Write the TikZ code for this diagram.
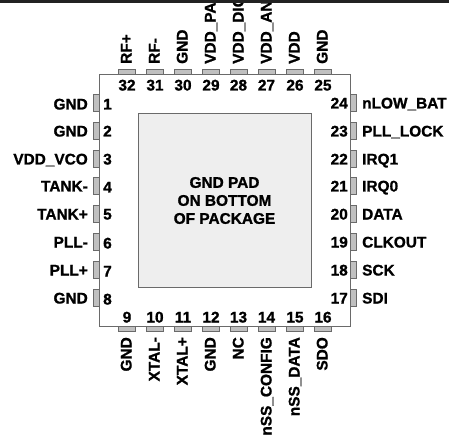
\documentclass[tikz,border=0pt]{standalone}
\usepackage{fontspec}
\setmainfont{Liberation Sans}[BoldFeatures={FakeBold=1.2}]
\usepackage{xcolor}
\usetikzlibrary{
    positioning
}
\definecolor{pinedge}{HTML}{6A6A6A}
\definecolor{pinfill}{HTML}{C0C0C0}
\definecolor{padfill}{HTML}{EEEEEE}
\definecolor{topbar}{HTML}{222222}
\tikzset{
    pinlabel/.style={inner sep=0pt, font=\fontsize{15.4}{18}\selectfont\bfseries, text height=11pt, text depth=0pt},
    pinnum/.style={pinlabel},
    sidepin/.style={draw=pinedge, fill=pinfill, line width=0.7pt, inner sep=0pt, minimum width=5.5pt, minimum height=17pt},
    flatpin/.style={draw=pinedge, fill=pinfill, line width=0.7pt, inner sep=0pt, minimum width=17pt, minimum height=5.5pt},
    leftname/.style={pinlabel, anchor=east},
    rightname/.style={pinlabel, anchor=west},
    topname/.style={pinlabel, rotate=90, anchor=west},
    botname/.style={pinlabel, rotate=90, anchor=east},
    leftnum/.style={pinnum, anchor=west},
    rightnum/.style={pinnum, anchor=east}
}
\begin{document}
\begin{tikzpicture}[x=1pt, y=-1pt]
    \useasboundingbox (0, 0) rectangle (449, 438);
    \clip (0, 0) rectangle (449, 438);
    % package and pad
    \node[draw=pinedge, line width=1pt, inner sep=0pt, minimum width=251pt, minimum height=251pt] (package) at (224.5, 200.5) {};
    \node[draw=pinedge, fill=padfill, line width=1pt, inner sep=0pt, minimum width=173pt, minimum height=173pt,
        font=\fontsize{15.4}{18}\selectfont\bfseries, align=center] (pad) at (224.5, 200.5) {GND PAD\\ON BOTTOM\\OF PACKAGE};
    % left side
    \node[sidepin] (p1) at (96.5, 103) {}; \node[leftnum] (n1) at (103, 104) {1}; \node[leftname] (l1) at (88, 104) {GND};
    \node[sidepin] (p2) at (96.5, 131) {}; \node[leftnum] (n2) at (103, 131) {2}; \node[leftname] (l2) at (88, 131) {GND};
    \node[sidepin] (p3) at (96.5, 159) {}; \node[leftnum] (n3) at (103, 159) {3}; \node[leftname] (l3) at (88, 159) {VDD\_VCO};
    \node[sidepin] (p4) at (96.5, 186) {}; \node[leftnum] (n4) at (103, 187) {4}; \node[leftname] (l4) at (88, 186) {TANK-};
    \node[sidepin] (p5) at (96.5, 214) {}; \node[leftnum] (n5) at (103, 214) {5}; \node[leftname] (l5) at (88, 214) {TANK+};
    \node[sidepin] (p6) at (96.5, 242) {}; \node[leftnum] (n6) at (103, 243) {6}; \node[leftname] (l6) at (88, 242) {PLL-};
    \node[sidepin] (p7) at (96.5, 270) {}; \node[leftnum] (n7) at (103, 271) {7}; \node[leftname] (l7) at (88, 270) {PLL+};
    \node[sidepin] (p8) at (96.5, 298) {}; \node[leftnum] (n8) at (103, 299) {8}; \node[leftname] (l8) at (88, 298) {GND};
    % bottom side
    \node[flatpin] (p9) at (127, 329) {}; \node[pinnum] (n9) at (127, 317) {9}; \node[botname] (l9) at (126, 337) {GND};
    \node[flatpin] (p10) at (155, 329) {}; \node[pinnum] (n10) at (155, 317) {10}; \node[botname] (l10) at (154, 337) {XTAL-};
    \node[flatpin] (p11) at (183, 329) {}; \node[pinnum] (n11) at (183, 317) {11}; \node[botname] (l11) at (182, 337) {XTAL+};
    \node[flatpin] (p12) at (211, 329) {}; \node[pinnum] (n12) at (211, 317) {12}; \node[botname] (l12) at (210, 337) {GND};
    \node[flatpin] (p13) at (238.5, 329) {}; \node[pinnum] (n13) at (238.5, 317) {13}; \node[botname] (l13) at (238, 337) {NC};
    \node[flatpin] (p14) at (266.5, 329) {}; \node[pinnum] (n14) at (266.5, 317) {14}; \node[botname] (l14) at (266, 337) {nSS\_CONFIG};
    \node[flatpin] (p15) at (295, 329) {}; \node[pinnum] (n15) at (295, 317) {15}; \node[botname] (l15) at (294, 337) {nSS\_DATA};
    \node[flatpin] (p16) at (323, 329) {}; \node[pinnum] (n16) at (323, 317) {16}; \node[botname] (l16) at (322, 337) {SDO};
    % right side
    \node[sidepin] (p17) at (353.5, 298) {}; \node[rightnum] (n17) at (348, 298) {17}; \node[rightname] (l17) at (362, 298) {SDI};
    \node[sidepin] (p18) at (353.5, 270) {}; \node[rightnum] (n18) at (348, 270) {18}; \node[rightname] (l18) at (362, 270) {SCK};
    \node[sidepin] (p19) at (353.5, 242) {}; \node[rightnum] (n19) at (348, 242) {19}; \node[rightname] (l19) at (362, 242) {CLKOUT};
    \node[sidepin] (p20) at (353.5, 214) {}; \node[rightnum] (n20) at (348, 214) {20}; \node[rightname] (l20) at (362, 214) {DATA};
    \node[sidepin] (p21) at (353.5, 186) {}; \node[rightnum] (n21) at (348, 186) {21}; \node[rightname] (l21) at (362, 186) {IRQ0};
    \node[sidepin] (p22) at (353.5, 159) {}; \node[rightnum] (n22) at (348, 159) {22}; \node[rightname] (l22) at (362, 159) {IRQ1};
    \node[sidepin] (p23) at (353.5, 131) {}; \node[rightnum] (n23) at (348, 131) {23}; \node[rightname] (l23) at (362, 131) {PLL\_LOCK};
    \node[sidepin] (p24) at (353.5, 103) {}; \node[rightnum] (n24) at (348, 103) {24}; \node[rightname] (l24) at (362, 103) {nLOW\_BAT};
    % top side
    \node[flatpin] (p25) at (323, 72) {}; \node[pinnum] (n25) at (323, 85) {25}; \node[topname] (l25) at (322, 64) {GND};
    \node[flatpin] (p26) at (295, 72) {}; \node[pinnum] (n26) at (295, 85) {26}; \node[topname] (l26) at (294, 64) {VDD};
    \node[flatpin] (p27) at (266.5, 72) {}; \node[pinnum] (n27) at (266.5, 85) {27}; \node[topname] (l27) at (266, 64) {VDD\_ANA};
    \node[flatpin] (p28) at (238.5, 72) {}; \node[pinnum] (n28) at (238.5, 85) {28}; \node[topname] (l28) at (238, 64) {VDD\_DIG};
    \node[flatpin] (p29) at (211, 72) {}; \node[pinnum] (n29) at (211, 85) {29}; \node[topname] (l29) at (210, 64) {VDD\_PA};
    \node[flatpin] (p30) at (183, 72) {}; \node[pinnum] (n30) at (183, 85) {30}; \node[topname] (l30) at (182, 64) {GND};
    \node[flatpin] (p31) at (155, 72) {}; \node[pinnum] (n31) at (155, 85) {31}; \node[topname] (l31) at (154, 64) {RF-};
    \node[flatpin] (p32) at (127, 72) {}; \node[pinnum] (n32) at (127, 85) {32}; \node[topname] (l32) at (126, 64) {RF+};
    % cut edge of the page
    \fill[topbar] (0, 0) rectangle (449, 3);
\end{tikzpicture}
\end{document}
